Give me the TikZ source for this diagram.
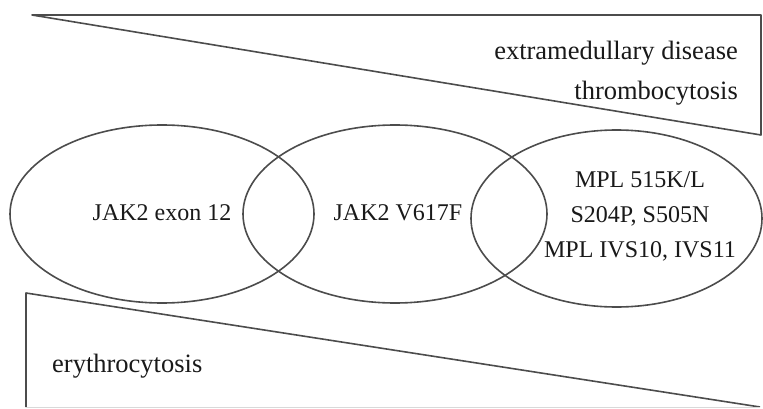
\documentclass[tikz,border=0pt]{standalone}
\usepackage{fontspec}
\setmainfont{Liberation Serif}
\usetikzlibrary{shapes.geometric}
\begin{document}
\begin{tikzpicture}[x=1pt,y=-1pt,
  ln/.style={draw=black!70,line width=1.6pt},
  ell/.style={ellipse,ln,inner sep=0pt},
  big/.style={text=black!90,inner sep=0pt,font=\fontsize{26.5}{32}\selectfont},
  mid/.style={text=black!90,inner sep=0pt,font=\fontsize{24}{35}\selectfont,align=center}]
\useasboundingbox (0,0) rectangle (763,409);
% top triangle
\coordinate (t1) at (32,15);
\coordinate (t2) at (761,15);
\coordinate (t3) at (761,135);
\draw[ln,line join=round] (t1) -- (t2) -- (t3) -- cycle;
% bottom triangle
\coordinate (b1) at (26,293);
\coordinate (b2) at (760,407);
\coordinate (b3) at (26,407);
\draw[ln,line join=round] (b3) -- (b1) -- (b2);
\draw[draw=black!15,line width=1pt] (b3) -- (b2);
% ellipses
\node[ell,minimum width=304pt,minimum height=178pt] (e1) at (162,214) {};
\node[ell,minimum width=304pt,minimum height=178pt] (e2) at (395,214) {};
\node[ell,minimum width=291pt,minimum height=177pt] (e3) at (616.5,218.5) {};
% texts
\node[big,anchor=base east] (l1) at (738,60) {extramedullary disease};
\node[big,anchor=base east] (l2) at (738,100) {thrombocytosis};
\node[big,anchor=base west] (l3) at (52,372) {erythrocytosis};
\node[mid,anchor=base] (m1) at (162,220) {JAK2 exon 12};
\node[mid,anchor=base] (m2) at (398,220) {JAK2 V617F};
\node[mid,anchor=base] (m3) at (640,187) {MPL 515K/L};
\node[mid,anchor=base] (m4) at (640,222) {S204P, S505N};
\node[mid,anchor=base] (m5) at (640,257) {MPL IVS10, IVS11};
\end{tikzpicture}
\end{document}
